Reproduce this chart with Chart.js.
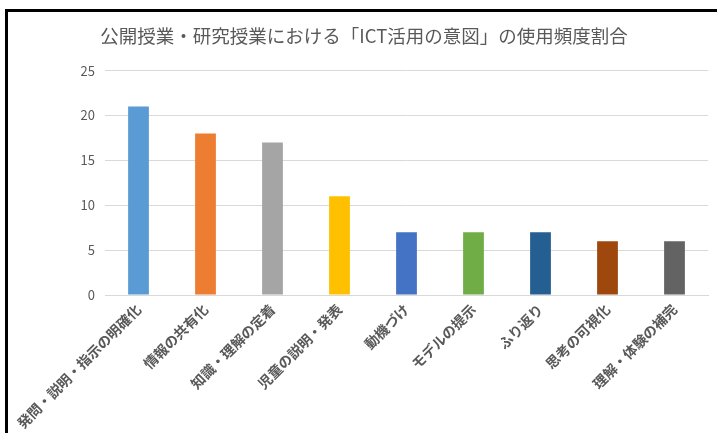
<!DOCTYPE html>
<html>
<head>
<meta charset="utf-8">
<script src="https://cdn.jsdelivr.net/npm/chart.js@4.4.0/dist/chart.umd.min.js"></script>
<style>
  html, body { margin: 0; padding: 0; background: #fff; overflow: hidden; }
  #wrap { position: relative; width: 717px; height: 433px; overflow: hidden; }
  #frame {
    position: absolute; left: 5px; top: 9px; width: 712px; height: 424px;
    border-left: 3px solid #000; border-top: 3px solid #000;
    box-sizing: border-box; pointer-events: none;
  }
  canvas { position: absolute; left: 0; top: 0; }
</style>
</head>
<body>
<div id="wrap">
  <canvas id="chart" width="717" height="433"></canvas>
  <div id="frame"></div>
</div>
<script>
const TITLE = '公開授業・研究授業における「ICT活用の意図」の使用頻度割合';
const categories = [
  '発問・説明・指示の明確化',
  '情報の共有化',
  '知識・理解の定着',
  '児童の説明・発表',
  '動機づけ',
  'モデルの提示',
  'ふり返り',
  '思考の可視化',
  '理解・体験の補完',
];
const counts = [21, 18, 17, 11, 7, 7, 7, 6, 6];
const barColors = [
  '#5B9BD5', '#ED7D31', '#A5A5A5', '#FFC000', '#4472C4',
  '#70AD47', '#255E91', '#9E480E', '#636363',
];
const yTicks = [0, 5, 10, 15, 20, 25];

const FONT = '"Noto Sans CJK JP", "Noto Sans", sans-serif';
const GREY = '#595959';

new Chart(document.getElementById('chart').getContext('2d'), {
  type: 'bar',
  data: {
    labels: categories,
    datasets: [{
      data: counts,
      backgroundColor: barColors,
      borderWidth: 0,
      barPercentage: 0.31,
      categoryPercentage: 1,
    }],
  },
  options: {
    responsive: false,
    animation: false,
    layout: { padding: { left: 20, right: 9, top: 0, bottom: 0 } },
    plugins: {
      legend: { display: false },
      tooltip: { enabled: false },
      title: {
        display: true,
        text: TITLE,
        color: GREY,
        font: { family: FONT, size: 18.5, weight: 'normal' },
        padding: { top: 25, bottom: 23.5 },
      },
    },
    scales: {
      x: {
        grid: { display: false, drawTicks: false },
        border: { display: true, color: '#D9D9D9', width: 1 },
        ticks: {
          color: GREY,
          font: { family: FONT, size: 14, weight: 'bold' },
          minRotation: 45,
          maxRotation: 45,
          autoSkip: false,
          padding: 6,
        },
        afterFit: (s) => { s.height = 138; },
      },
      y: {
        min: 0,
        max: 25,
        afterBuildTicks: (s) => { s.ticks = yTicks.map((v) => ({ value: v })); },
        grid: { color: '#D9D9D9', lineWidth: 1, drawTicks: false },
        border: { display: false },
        ticks: {
          color: GREY,
          font: { family: FONT, size: 13 },
          padding: 10,
        },
        afterFit: (s) => { s.width = 85; },
      },
    },
  },
});
</script>
</body>
</html>
